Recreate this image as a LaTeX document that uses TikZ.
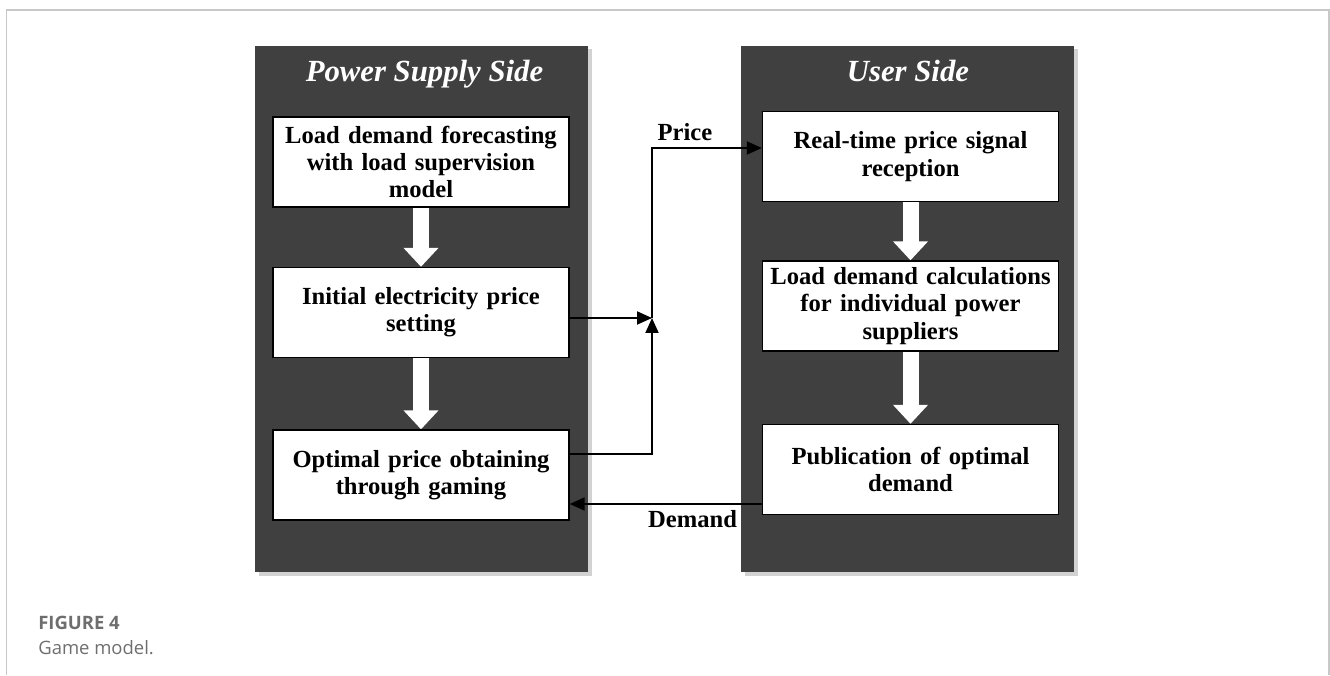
\documentclass[tikz,border=0pt]{standalone}
\usepackage{fontspec}
\setmainfont{Liberation Serif}
\newfontfamily\capfont{Open Sans}
\usetikzlibrary{arrows.meta,positioning,shadows}
\definecolor{Panel}{HTML}{404040}
\definecolor{Marco}{HTML}{C8C8C8}
\definecolor{Leyenda}{HTML}{6E6E6E}

\begin{document}
\begin{tikzpicture}[
  font=\bfseries\fontsize{14}{15.5}\selectfont,
  panel/.style={fill=Panel,drop shadow={shadow xshift=0.07cm,shadow yshift=-0.07cm,fill=black!35}},
  titulo/.style={anchor=base,text=white,font=\bfseries\itshape\fontsize{17.5}{20}\selectfont},
  caja/.style={draw=black,thick,fill=white,text width=5.9cm,align=center,
    minimum width=5.92cm,minimum height=1.8cm,inner sep=0pt},
  flujo/.style={line width=3.2mm,white,-{Triangle[length=3.8mm,width=6.8mm]}},
  senal/.style={line width=1.1pt,-{Triangle[length=3mm,width=2.6mm]}}
]
  \useasboundingbox (0,0) rectangle (26.6,13.5);
  % marco de la figura
  \draw[Marco,line width=1.1pt] (0.13,0) -- (0.13,13.3) -- (26.58,13.3) -- (26.58,0);

  % Lado de suministro
  \path[panel] (5.10,2.06) rectangle (11.76,12.58);
  \node[titulo] (tsup) at (8.49,11.86) {Power Supply Side};
  \node[caja] (lb1) at (8.42,10.26) {Load demand forecasting\\with load supervision\\model};
  \node[caja] (lb2) at (8.42,7.25) {Initial electricity price\\setting};
  \node[caja] (lb3) at (8.42,4.00) {Optimal price obtaining\\through gaming};
  \draw[flujo] (lb1) -- (lb2);
  \draw[flujo] (lb2) -- (lb3);

  % Lado de usuario
  \path[panel] (14.82,2.06) rectangle (21.48,12.58);
  \node[titulo] (tusr) at (18.16,11.86) {User Side};
  \node[caja] (rb1) at (18.21,10.37) {Real-time price signal\\reception};
  \node[caja] (rb2) at (18.21,7.38) {Load demand calculations\\for individual power\\suppliers};
  \node[caja] (rb3) at (18.21,4.11) {Publication of optimal\\demand};
  \draw[flujo] (rb1) -- (rb2);
  \draw[flujo] (rb2) -- (rb3);

  % senales de precio y demanda
  \coordinate (jn) at (13.04,7.14);
  \coordinate (low) at (13.04,4.42);
  \coordinate (corner) at (13.04,10.54);
  \coordinate (dm) at (15.00,3.42);
  \draw[senal] (lb2.east |- jn) -- (jn);
  \draw[senal] (lb3.east |- low) -- (low) -- (jn);
  \draw[senal] (jn) -- (corner) -- node[above,pos=0.3] {Price} (rb1.west |- corner);
  \draw[senal] (rb3.west |- dm) -- node[below,pos=0.36] {Demand} (lb3.east |- dm);

  % leyenda
  \node[anchor=base west,font=\capfont\bfseries\fontsize{10.5}{12}\selectfont,text=Leyenda,inner sep=0pt]
    (fig) at (0.76,0.92) {FIGURE 4};
  \node[anchor=base west,font=\capfont\fontsize{10.5}{12}\selectfont,text=Leyenda,inner sep=0pt]
    (cap) at (0.76,0.42) {Game model.};
\end{tikzpicture}
\end{document}
